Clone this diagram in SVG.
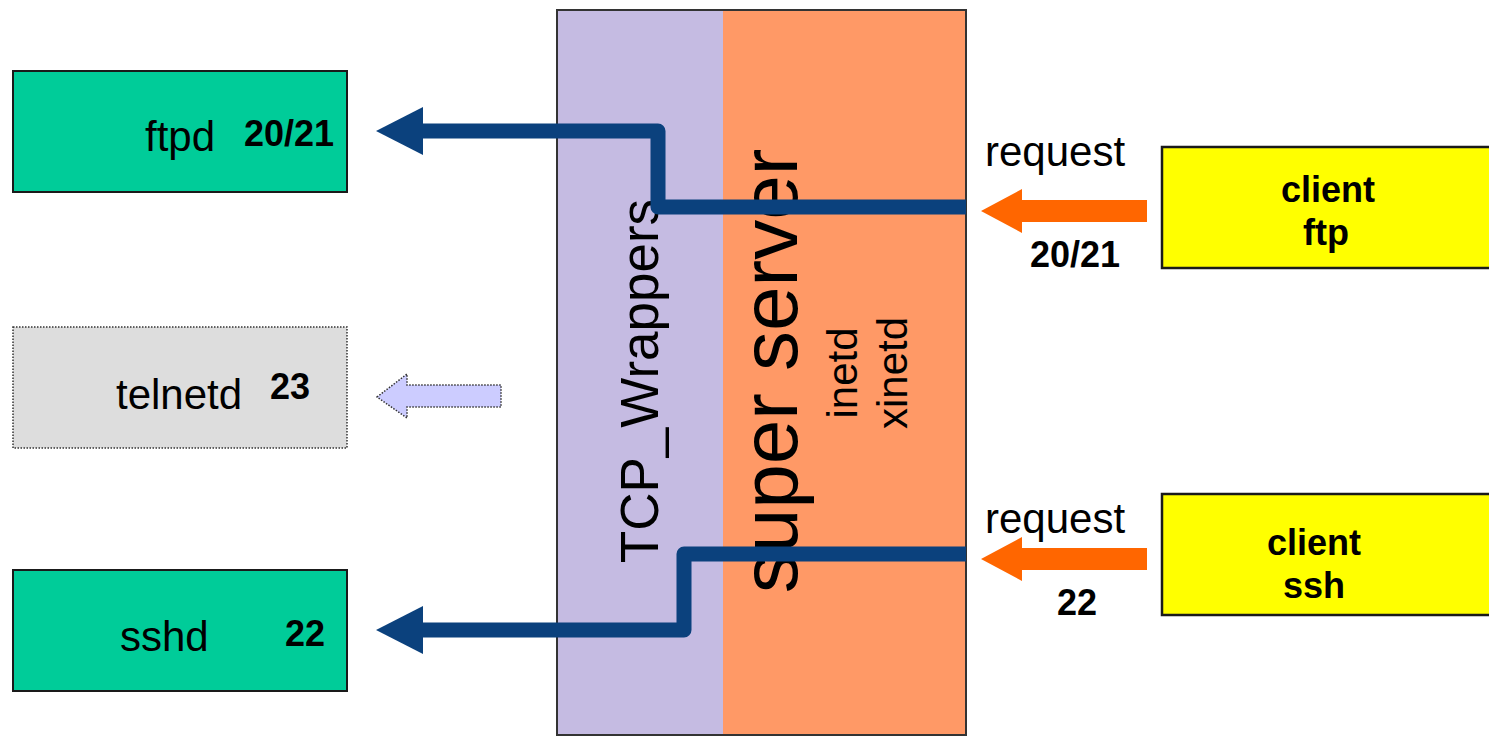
<svg xmlns="http://www.w3.org/2000/svg" width="1489" height="736" viewBox="0 0 1489 736">
<defs>
<style>
text{font-family:"Liberation Sans",Arial,sans-serif;fill:#000}
.n{font-size:42px}
.b{font-size:36px;font-weight:bold}
.srv{fill:#00CC99;stroke:#1a1a1a;stroke-width:2}
.cli{fill:#FFFF00;stroke:#1a1a1a;stroke-width:2.5}
.conn{fill:none;stroke:#0B417D;stroke-width:15;stroke-linejoin:round}
.req{fill:#FF6600}
</style>
<marker id="head" markerUnits="userSpaceOnUse" viewBox="0 0 47 48" refX="0" refY="24" markerWidth="47" markerHeight="48" orient="auto">
<polygon points="0,0 47,24 0,48" fill="#0B417D"/>
</marker>
</defs>
<rect width="1489" height="736" fill="#fff"/>

<g id="layer">
<rect x="557" y="10" width="166" height="726" fill="#C5BBE2"/>
<rect x="723" y="10" width="243" height="726" fill="#FF9966"/>
<rect x="557" y="10" width="409" height="725" fill="none" stroke="#333" stroke-width="2"/>
<text transform="translate(658,381) rotate(-90)" text-anchor="middle" font-size="53">TCP_Wrappers</text>
<text transform="translate(797,371) rotate(-90)" text-anchor="middle" font-size="80">super server</text>
<text transform="translate(857,373) rotate(-90)" text-anchor="middle" font-size="42">inetd</text>
<text transform="translate(907,373) rotate(-90)" text-anchor="middle" font-size="42">xinetd</text>
</g>

<g id="ftpd">
<rect class="srv" x="13" y="71" width="334" height="121"/>
<text class="n" x="145" y="151">ftpd</text>
<text class="b" x="244" y="146">20/21</text>
</g>

<g id="telnetd">
<rect x="13" y="327" width="334" height="121" fill="#DDDDDD" stroke="#333" stroke-width="1.5" stroke-dasharray="1.5 1.5"/>
<text class="n" x="116" y="409">telnetd</text>
<text class="b" x="270" y="399">23</text>
</g>

<g id="sshd">
<rect class="srv" x="13" y="570" width="334" height="121"/>
<text class="n" x="120" y="651">sshd</text>
<text class="b" x="285" y="646">22</text>
</g>

<g id="client-ftp">
<rect class="cli" x="1162" y="147" width="340" height="121"/>
<text class="b" x="1328" y="202" text-anchor="middle">client</text>
<text class="b" x="1326" y="245" text-anchor="middle">ftp</text>
</g>

<g id="client-ssh">
<rect class="cli" x="1162" y="494" width="340" height="121"/>
<text class="b" x="1314" y="555" text-anchor="middle">client</text>
<text class="b" x="1314" y="598" text-anchor="middle">ssh</text>
</g>

<g id="connectors">
<path class="conn" d="M966,207 H658 V131 H423" marker-end="url(#head)"/>
<path class="conn" d="M966,554 H684 V630 H423" marker-end="url(#head)"/>
<polygon class="req" points="981,211 1022,189 1022,200 1147,200 1147,222 1022,222 1022,233"/>
<polygon class="req" points="981,559 1022,537 1022,548 1147,548 1147,570 1022,570 1022,581"/>
<polygon points="377,397 407,374 407,385 501,385 501,407 407,407 407,418" fill="#CCCCFF" stroke="#333" stroke-width="1.5" stroke-dasharray="1.5 1.5"/>
<text class="n" x="985" y="166">request</text>
<text class="b" x="1030" y="267">20/21</text>
<text class="n" x="985" y="533">request</text>
<text class="b" x="1057" y="615">22</text>
</g>
</svg>
